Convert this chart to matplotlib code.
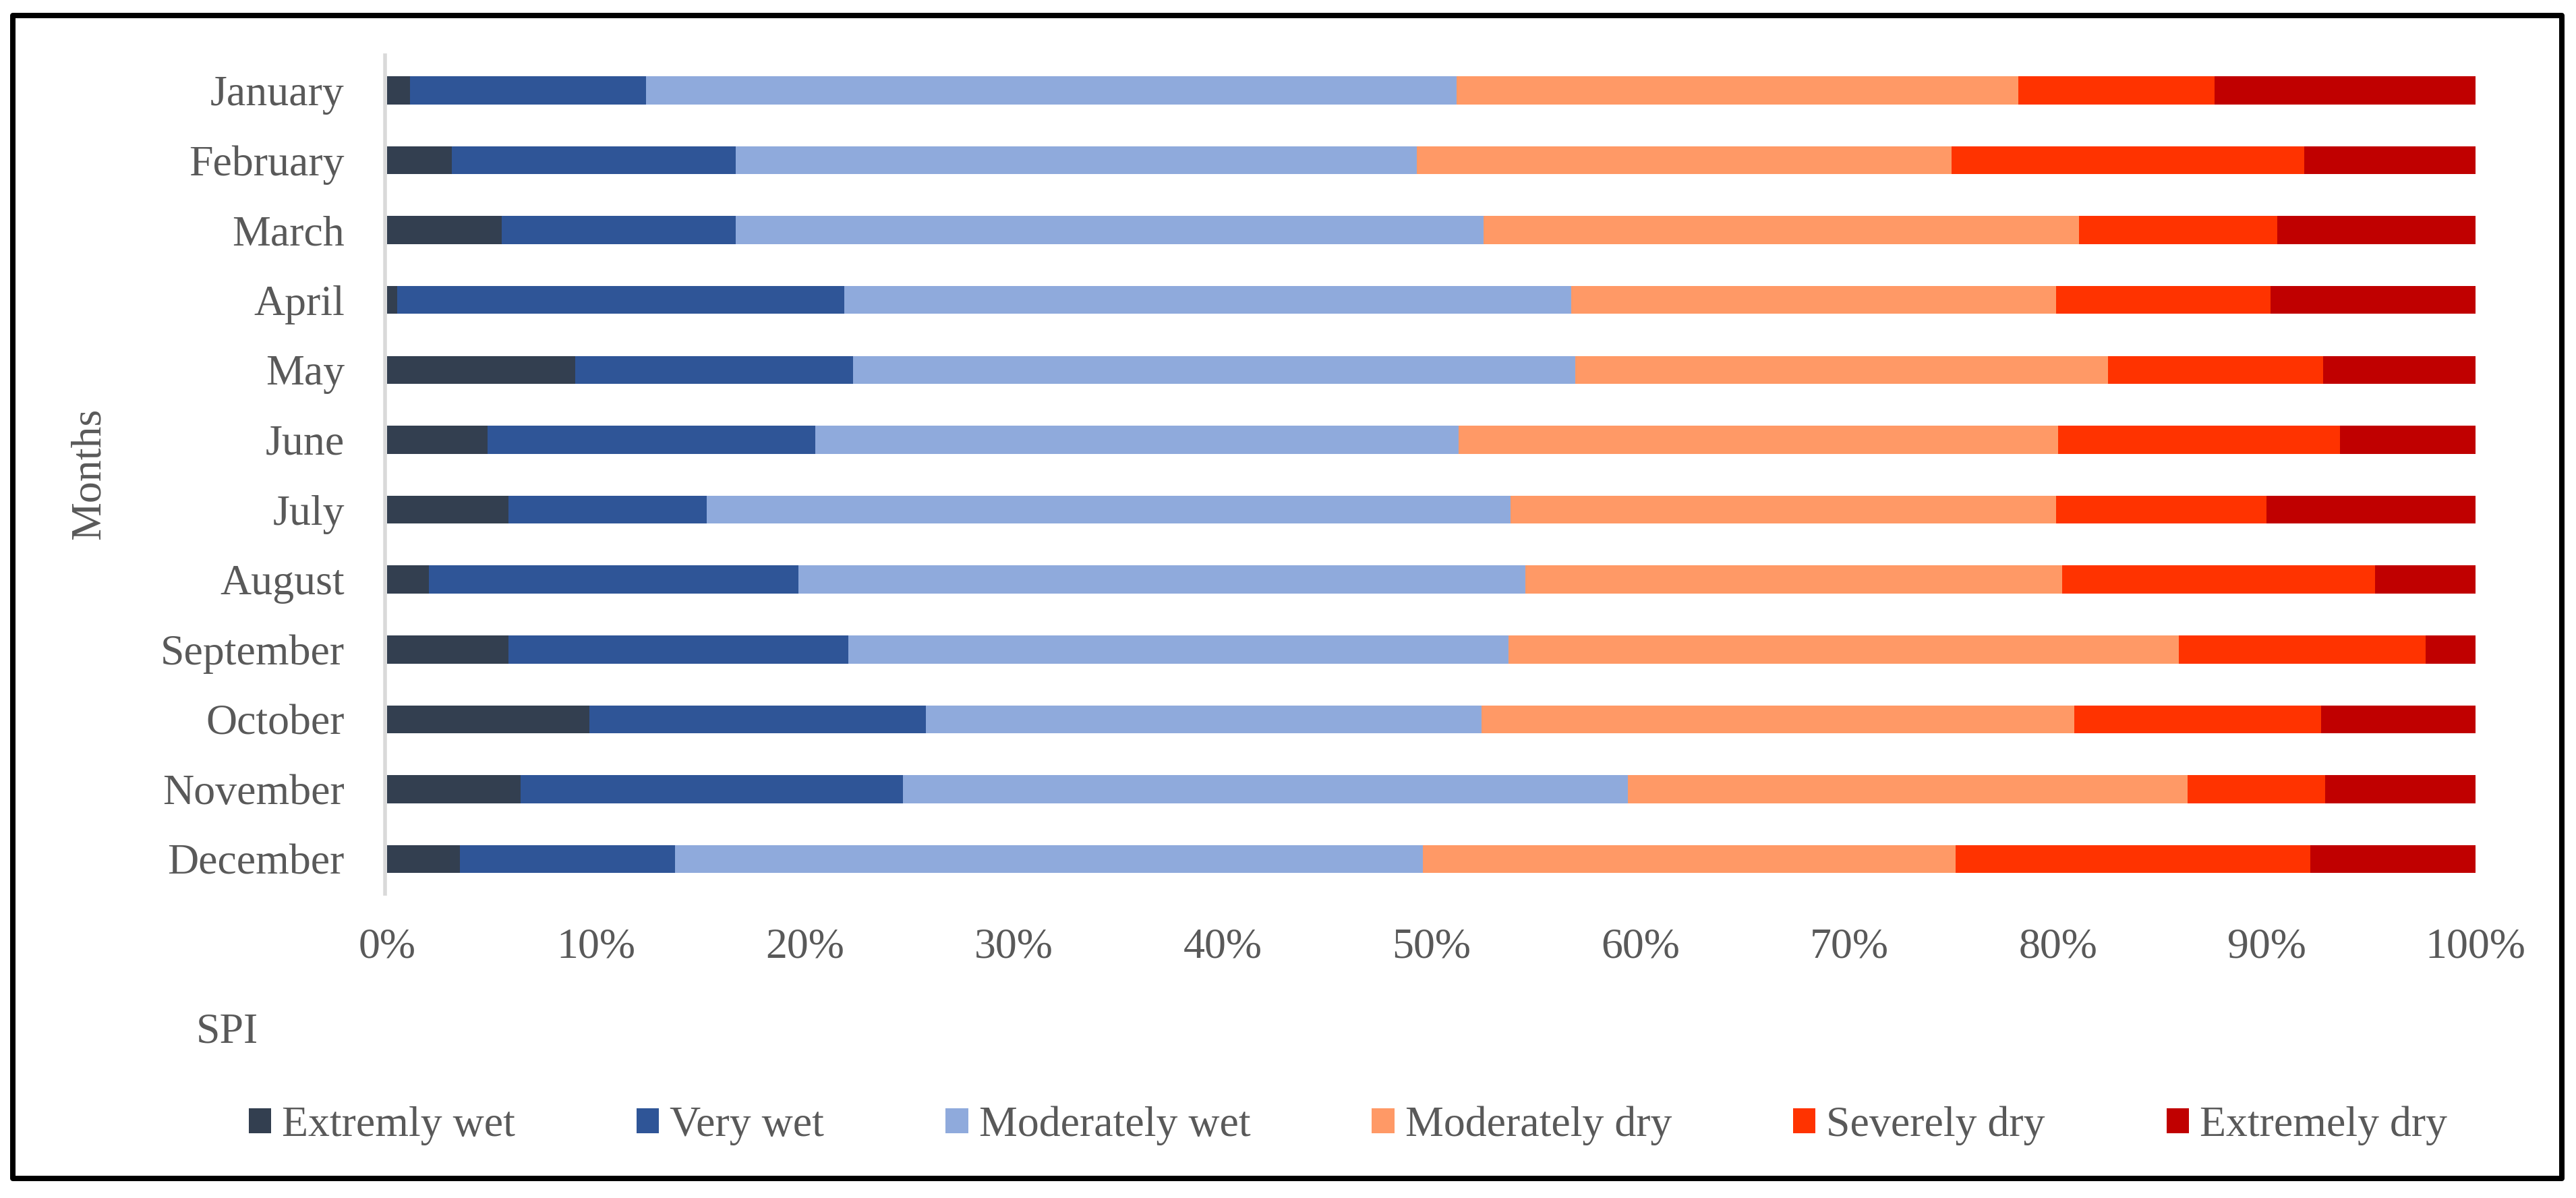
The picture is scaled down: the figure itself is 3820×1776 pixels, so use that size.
import numpy as np
import matplotlib
matplotlib.use("Agg")
import matplotlib.pyplot as plt
from matplotlib.patches import Rectangle
from matplotlib.ticker import FuncFormatter

# percentage of SPI classes per month
months = ["January", "February", "March", "April", "May", "June",
          "July", "August", "September", "October", "November", "December"]
extremly_wet = [1.1, 3.1, 5.5, 0.5, 9.0, 4.8, 5.8, 2.0, 5.8, 9.7, 6.4, 3.5]
very_wet = [11.3, 13.6, 11.2, 21.4, 13.3, 15.7, 9.5, 17.7, 16.3, 16.1, 18.3, 10.3]
moderately_wet = [38.8, 32.6, 35.8, 34.8, 34.6, 30.8, 38.5, 34.8, 31.6, 26.6, 34.7, 35.8]
moderately_dry = [26.9, 25.6, 28.5, 23.2, 25.5, 28.7, 26.1, 25.7, 32.1, 28.4, 26.8, 25.5]
severely_dry = [9.4, 16.9, 9.5, 10.3, 10.3, 13.5, 10.1, 15.0, 11.8, 11.8, 6.6, 17.0]
extremely_dry = [12.5, 8.2, 9.5, 9.8, 7.3, 6.5, 10.0, 4.8, 2.4, 7.4, 7.2, 7.9]

series_names = ["Extremly wet", "Very wet", "Moderately wet",
                "Moderately dry", "Severely dry", "Extremely dry"]
series_colors = ["#333F50", "#2F5597", "#8FAADC", "#FF9966", "#FF3300", "#C00000"]
xticks = [0, 10, 20, 30, 40, 50, 60, 70, 80, 90, 100]

W, H = 3820, 1776
text_color = "#595959"
font = "Liberation Serif"
fs = 46

plt.rcParams["font.family"] = [font, "DejaVu Serif"]

fig = plt.figure(figsize=(W / 100, H / 100), dpi=100)
ax = fig.add_axes([574 / W, 1 - 1325.5 / H, (3671 - 574) / W, (1325.5 - 82) / H])

data = np.array([extremly_wet, very_wet, moderately_wet,
                 moderately_dry, severely_dry, extremely_dry])
data = data / data.sum(axis=0) * 100  # 100% stacked

y = np.arange(len(months))
left = np.zeros(len(months))
handles = []
for vals, name, col in zip(data, series_names, series_colors):
    h = ax.barh(y, vals, left=left, height=0.4, color=col, label=name, zorder=2)
    handles.append(h)
    left += vals

ax.set_xlim(0, 100)
ax.set_ylim(len(months) - 0.5, -0.5)
ax.set_yticks(y)
ax.set_yticklabels(months)
ax.set_xticks(xticks)
ax.xaxis.set_major_formatter(FuncFormatter(lambda v, p: f"{v:.0f}%"))

for s in ["top", "right", "bottom"]:
    ax.spines[s].set_visible(False)
ax.spines["left"].set_color("#D9D9D9")
ax.spines["left"].set_linewidth(4)
ax.spines["left"].set_position(("outward", 2.5))
ax.spines["left"].set_zorder(1)

ax.tick_params(axis="y", length=0, pad=43, labelsize=fs, labelcolor=text_color)
ax.tick_params(axis="x", length=0, pad=36, labelsize=fs, labelcolor=text_color)

fig.text(133 / W, 1 - 702 / H, "Months", rotation=90, ha="center", va="center",
         fontsize=fs, color=text_color)
fig.text(291 / W, 1 - 1545 / H, "SPI", ha="left", va="baseline",
         fontsize=fs, color=text_color)

leg = fig.legend(handles=handles, labels=series_names, loc="center",
                 bbox_to_anchor=(1999 / W, 1 - 1669 / H), ncol=6, frameon=False,
                 handlelength=0.52, handleheight=0.53, handletextpad=0.25,
                 columnspacing=2.82, borderpad=0, fontsize=fs)
for t in leg.get_texts():
    t.set_color(text_color)

# black frame around the chart
fig.patches.append(Rectangle((19 / W, 1 - 1747 / H), (3799 - 19) / W, (1747 - 23) / H,
                             transform=fig.transFigure, fill=False,
                             edgecolor="black", linewidth=5.76, joinstyle="round"))

fig.savefig("out.png", dpi=100, facecolor="white")
